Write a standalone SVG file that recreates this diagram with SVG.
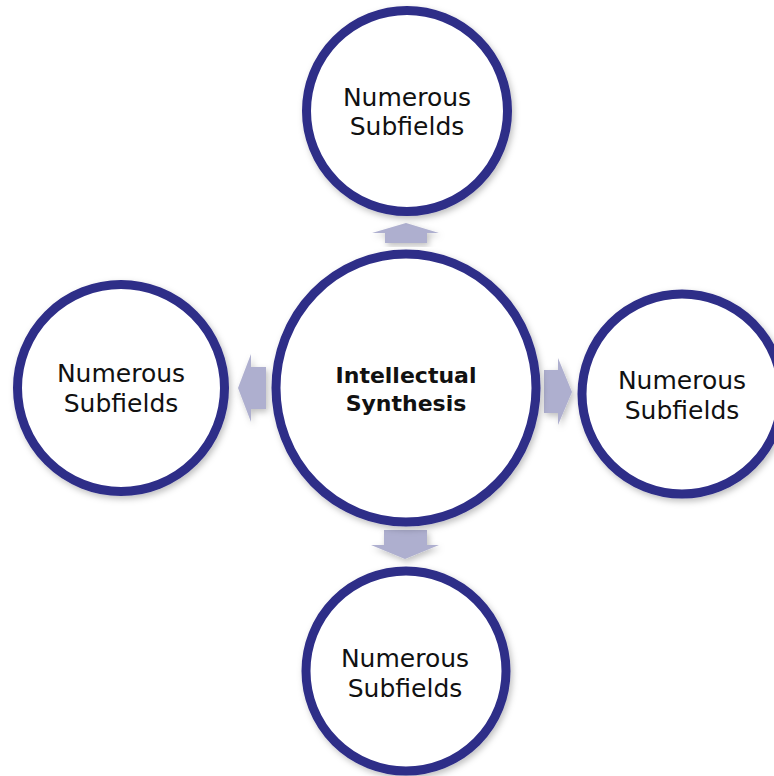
<svg xmlns="http://www.w3.org/2000/svg" width="774" height="776" viewBox="0 0 774 776">
<defs>
<filter id="sh" x="-20%" y="-20%" width="140%" height="140%">
<feDropShadow dx="2" dy="3" stdDeviation="3" flood-color="#000" flood-opacity="0.25"/>
</filter>
</defs>
<style>
.ring{fill:#fff;stroke:#2e2d88;stroke-width:9;filter:url(#sh)}
.arr{fill:#aeafcf;filter:url(#sh)}
.t{font-family:"DejaVu Sans","Liberation Sans",sans-serif;font-size:25px;fill:#111;text-anchor:middle}
.b{font-family:"DejaVu Sans","Liberation Sans",sans-serif;font-size:22px;font-weight:bold;fill:#111;text-anchor:middle}
</style>
<rect width="774" height="776" fill="#fff"/>
<g id="connectors">
<polygon class="arr" points="406,223 439,233 427,233 427,243 385,243 385,233 372,233"/>
<polygon class="arr" points="238,388 251,354 251,367 266,367 266,409 251,409 251,422"/>
<polygon class="arr" points="572,392 558,358 558,370 544,370 544,413 558,413 558,425"/>
<polygon class="arr" points="405,559 439,545 427,545 427,530 384,530 384,545 371,545"/>
</g>
<g id="center">
<ellipse class="ring" cx="406" cy="388" rx="130" ry="134"/>
<text class="b" x="406" y="383">Intellectual</text>
<text class="b" x="406" y="411">Synthesis</text>
</g>
<g id="top">
<circle class="ring" cx="407" cy="111" r="100.5"/>
<text class="t" x="407" y="106">Numerous</text>
<text class="t" x="407" y="135">Subfields</text>
</g>
<g id="left">
<circle class="ring" cx="121" cy="388" r="103.5"/>
<text class="t" x="121" y="382">Numerous</text>
<text class="t" x="121" y="412">Subfields</text>
</g>
<g id="right">
<circle class="ring" cx="682" cy="394" r="100"/>
<text class="t" x="682" y="389">Numerous</text>
<text class="t" x="682" y="419">Subfields</text>
</g>
<g id="bottom">
<circle class="ring" cx="406" cy="671" r="100"/>
<text class="t" x="405" y="667">Numerous</text>
<text class="t" x="405" y="697">Subfields</text>
</g>
</svg>
